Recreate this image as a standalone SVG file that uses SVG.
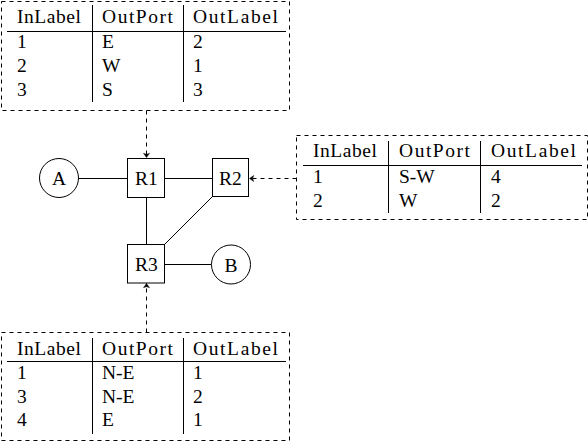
<svg xmlns="http://www.w3.org/2000/svg" width="588" height="442" viewBox="0 0 588 442">
<defs>
<style>
text{font-family:"Liberation Serif","DejaVu Serif",serif;font-size:19.5px;fill:#000}
.c{text-anchor:middle}
.tbl{fill:none;stroke:#000;stroke-width:1;stroke-dasharray:4 4}
.ln{stroke:#000;stroke-width:1;fill:none}
.nd{fill:#fff;stroke:#000;stroke-width:1}
.dash{stroke:#000;stroke-width:1;fill:none;stroke-dasharray:4 4}
</style>
<marker id="ah" markerUnits="userSpaceOnUse" markerWidth="10" markerHeight="10" viewBox="-6 -5 7 10" refX="0" refY="0" orient="auto">
<path d="M0,0 L-4.2,-3 Q-2.2,0 -4.2,3 Z" fill="#000" stroke="#000" stroke-width="0.5" stroke-linejoin="round"/>
</marker>
</defs>

<g id="connectors">
<line class="ln" x1="78.5" y1="178.5" x2="127.5" y2="178.5"/>
<line class="ln" x1="164.5" y1="178.5" x2="212.5" y2="178.5"/>
<line class="ln" x1="146.5" y1="197.5" x2="146.5" y2="244.5"/>
<line class="ln" x1="212.5" y1="196.5" x2="164.5" y2="244.5"/>
<line class="ln" x1="164.5" y1="264.5" x2="211.5" y2="264.5"/>
<line class="dash" x1="146.5" y1="110.5" x2="146.5" y2="157.5" marker-end="url(#ah)"/>
<line class="dash" x1="296.5" y1="178.5" x2="249.5" y2="178.5" marker-end="url(#ah)"/>
<line class="dash" x1="146.5" y1="332.5" x2="146.5" y2="283.5" marker-end="url(#ah)"/>
</g>

<g id="A"><circle class="nd" cx="59" cy="178" r="19.5"/><text class="c" x="59" y="185">A</text></g>
<g id="B"><circle class="nd" cx="231" cy="264.5" r="19.5"/><text class="c" x="231" y="271.5">B</text></g>
<g id="R1"><rect class="nd" x="127.5" y="158.5" width="37" height="39"/><text class="c" x="146.5" y="185">R1</text></g>
<g id="R2"><rect class="nd" x="212.5" y="158.5" width="36" height="38"/><text class="c" x="230.5" y="185">R2</text></g>
<g id="R3"><rect class="nd" x="127.5" y="244.5" width="37" height="38.5"/><text class="c" x="146.5" y="271">R3</text></g>

<g id="table-R1">
<rect class="tbl" x="1.5" y="1.5" width="288" height="109"/>
<line class="ln" x1="7" y1="31.5" x2="286" y2="31.5"/>
<line class="ln" x1="92.5" y1="5" x2="92.5" y2="102"/>
<line class="ln" x1="183.5" y1="5" x2="183.5" y2="102"/>
<text x="17" y="23" textLength="64" lengthAdjust="spacing">InLabel</text>
<text x="102" y="23" textLength="71" lengthAdjust="spacing">OutPort</text>
<text x="193" y="23" textLength="85" lengthAdjust="spacing">OutLabel</text>
<text x="17" y="48">1</text><text x="102" y="48">E</text><text x="193" y="48">2</text>
<text x="17" y="72">2</text><text x="102" y="72">W</text><text x="193" y="72">1</text>
<text x="17" y="95.5">3</text><text x="102" y="95.5">S</text><text x="193" y="95.5">3</text>
</g>

<g id="table-R2">
<rect class="tbl" x="296.5" y="135.5" width="291" height="84"/>
<line class="ln" x1="303" y1="165.5" x2="582" y2="165.5"/>
<line class="ln" x1="388.5" y1="141" x2="388.5" y2="213"/>
<line class="ln" x1="480.5" y1="141" x2="480.5" y2="213"/>
<text x="313" y="157" textLength="64" lengthAdjust="spacing">InLabel</text>
<text x="399" y="157" textLength="71" lengthAdjust="spacing">OutPort</text>
<text x="491" y="157" textLength="85" lengthAdjust="spacing">OutLabel</text>
<text x="313" y="182.5">1</text><text x="399" y="182.5">S-W</text><text x="491" y="182.5">4</text>
<text x="313" y="206.5">2</text><text x="399" y="206.5">W</text><text x="491" y="206.5">2</text>
</g>

<g id="table-R3">
<rect class="tbl" x="1.5" y="332.5" width="288" height="108"/>
<line class="ln" x1="7" y1="361.5" x2="286" y2="361.5"/>
<line class="ln" x1="92.5" y1="338" x2="92.5" y2="434"/>
<line class="ln" x1="183.5" y1="338" x2="183.5" y2="434"/>
<text x="17" y="355" textLength="64" lengthAdjust="spacing">InLabel</text>
<text x="102" y="355" textLength="71" lengthAdjust="spacing">OutPort</text>
<text x="193" y="355" textLength="85" lengthAdjust="spacing">OutLabel</text>
<text x="17" y="379">1</text><text x="102" y="379">N-E</text><text x="193" y="379">1</text>
<text x="17" y="402.5">3</text><text x="102" y="402.5">N-E</text><text x="193" y="402.5">2</text>
<text x="17" y="426">4</text><text x="102" y="426">E</text><text x="193" y="426">1</text>
</g>
</svg>
